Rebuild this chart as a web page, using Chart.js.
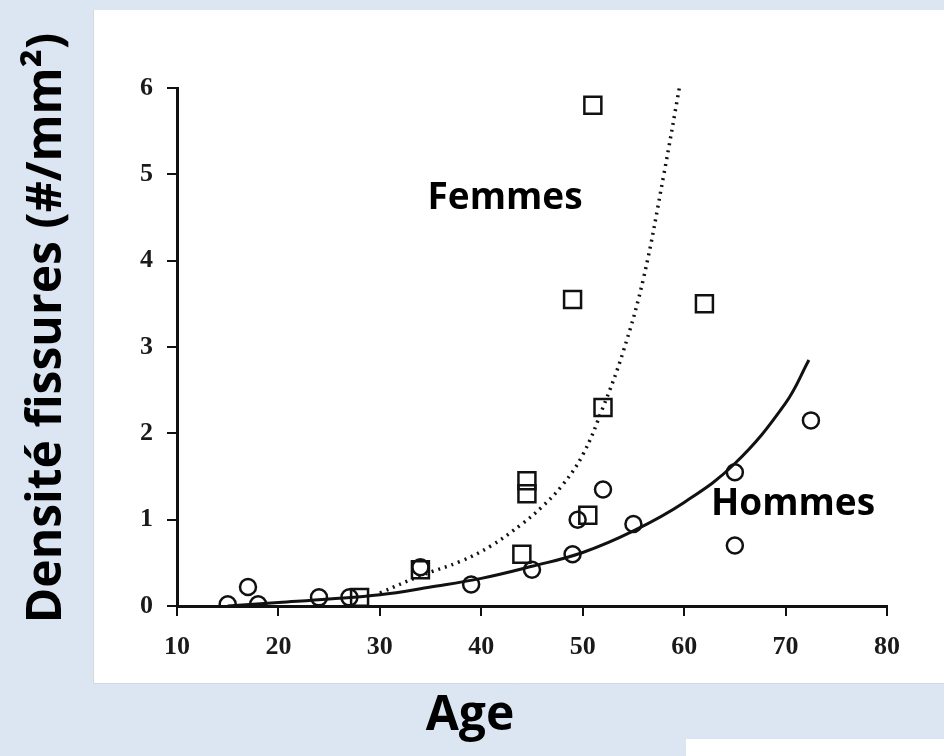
<!DOCTYPE html>
<html>
<head>
<meta charset="utf-8">
<script src="https://cdn.jsdelivr.net/npm/chart.js@4.4.1/dist/chart.umd.min.js"></script>
<style>
  html, body { margin: 0; padding: 0; background: #dce6f2; }
  #wrap { position: relative; width: 944px; height: 756px; }
</style>
</head>
<body>
<div id="wrap"><canvas id="fissures-chart" width="944" height="756"></canvas></div>
<script>
// points mesures
const femmesX = [51, 49, 62, 52, 44.5, 44.5, 50.5, 44, 34, 28];
const femmesY = [5.8, 3.55, 3.5, 2.3, 1.45, 1.3, 1.05, 0.6, 0.42, 0.1];
const hommesX = [72.5, 65, 65, 55, 52, 49.5, 49, 45, 39, 34, 24, 27, 17, 15, 18];
const hommesY = [2.15, 1.55, 0.7, 0.95, 1.35, 1.0, 0.6, 0.42, 0.25, 0.45, 0.1, 0.1, 0.22, 0.02, 0.02];

// courbes
const femmesCurveX = [30, 34, 38, 41, 44, 46, 48, 50, 52, 54, 56, 58, 59.6];
const femmesCurveY = [0.15, 0.35, 0.52, 0.7, 0.95, 1.15, 1.4, 1.75, 2.3, 2.95, 3.8, 5.0, 6.05];
const hommesCurveX = [15, 20, 25, 30, 35, 40, 45, 50, 55, 60, 65, 70, 72.3];
const hommesCurveY = [0.0, 0.04, 0.08, 0.13, 0.22, 0.32, 0.46, 0.62, 0.87, 1.2, 1.65, 2.35, 2.85];

const xTicks = [10, 20, 30, 40, 50, 60, 70, 80];
const yTicks = [0, 1, 2, 3, 4, 5, 6];

function pts(xs, ys) {
    return xs.map((x, i) => ({ x: x, y: ys[i] }));
}

const fond = {
    id: 'fond',
    beforeDraw(chart) {
        const c = chart.ctx;
        c.save();
        c.fillStyle = '#dce6f2';
        c.fillRect(0, 0, 944, 756);
        c.fillStyle = '#ffffff';
        c.fillRect(93, 10, 851, 673);
        c.fillRect(686, 739, 258, 17);
        c.strokeStyle = '#d4d8de';
        c.lineWidth = 1;
        c.beginPath();
        c.moveTo(93.5, 10);
        c.lineTo(93.5, 683.5);
        c.lineTo(944, 683.5);
        c.stroke();
        c.restore();
    },
    afterDraw(chart) {
        const c = chart.ctx;
        c.save();
        c.fillStyle = '#000';
        c.textAlign = 'center';
        c.textBaseline = 'middle';
        c.font = 'bold 37px "Open Sans"';
        c.fillText('Femmes', 505, 198);
        c.fillText('Hommes', 793, 504);
        c.font = 'bold 48px "Open Sans"';
        c.fillText('Age', 470, 716);
        c.translate(47, 328);
        c.rotate(-Math.PI / 2);
        c.fillText('Densité fissures (#/mm²)', 0, 0);
        c.restore();
    }
};

document.addEventListener('DOMContentLoaded', function() {
    const ctx = document.getElementById('fissures-chart').getContext('2d');
    new Chart(ctx, {
        type: 'scatter',
        data: {
            datasets: [
                {
                    label: 'Femmes',
                    data: pts(femmesX, femmesY),
                    pointStyle: 'rect',
                    pointRadius: 12,
                    borderColor: '#111',
                    backgroundColor: 'rgba(0,0,0,0)',
                    borderWidth: 2.5
                },
                {
                    label: 'Hommes',
                    data: pts(hommesX, hommesY),
                    pointStyle: 'circle',
                    pointRadius: 8,
                    borderColor: '#111',
                    backgroundColor: 'rgba(0,0,0,0)',
                    borderWidth: 2.5
                },
                {
                    label: 'Femmes courbe',
                    type: 'line',
                    data: pts(femmesCurveX, femmesCurveY),
                    borderColor: '#111',
                    borderWidth: 3.5,
                    borderDash: [2, 5],
                    pointRadius: 0,
                    tension: 0.4,
                    fill: false
                },
                {
                    label: 'Hommes courbe',
                    type: 'line',
                    data: pts(hommesCurveX, hommesCurveY),
                    borderColor: '#111',
                    borderWidth: 3,
                    pointRadius: 0,
                    tension: 0.4,
                    fill: false
                }
            ]
        },
        options: {
            responsive: false,
            animation: false,
            layout: {
                padding: { left: 0, top: 88, right: 57, bottom: 0 }
            },
            scales: {
                x: {
                    type: 'linear',
                    min: 10,
                    max: 80,
                    afterFit: function(s) { s.height = 150; },
                    afterBuildTicks: function(s) { s.ticks = xTicks.map(v => ({ value: v })); },
                    border: { color: '#111', width: 3 },
                    grid: { drawOnChartArea: false, color: '#111', lineWidth: 2, tickLength: 10 },
                    ticks: {
                        color: '#1a1a1a',
                        padding: 16,
                        maxRotation: 0,
                        font: { family: '"Liberation Serif"', size: 26, weight: 'bold' }
                    }
                },
                y: {
                    min: 0,
                    max: 6,
                    afterFit: function(s) { s.width = 177; },
                    afterBuildTicks: function(s) { s.ticks = yTicks.map(v => ({ value: v })); },
                    border: { color: '#111', width: 3 },
                    grid: { drawOnChartArea: false, color: '#111', lineWidth: 2, tickLength: 10 },
                    ticks: {
                        color: '#1a1a1a',
                        padding: 14,
                        font: { family: '"Liberation Serif"', size: 26, weight: 'bold' }
                    }
                }
            },
            plugins: {
                legend: { display: false },
                tooltip: { enabled: false }
            }
        },
        plugins: [fond]
    });
});
</script>
</body>
</html>
